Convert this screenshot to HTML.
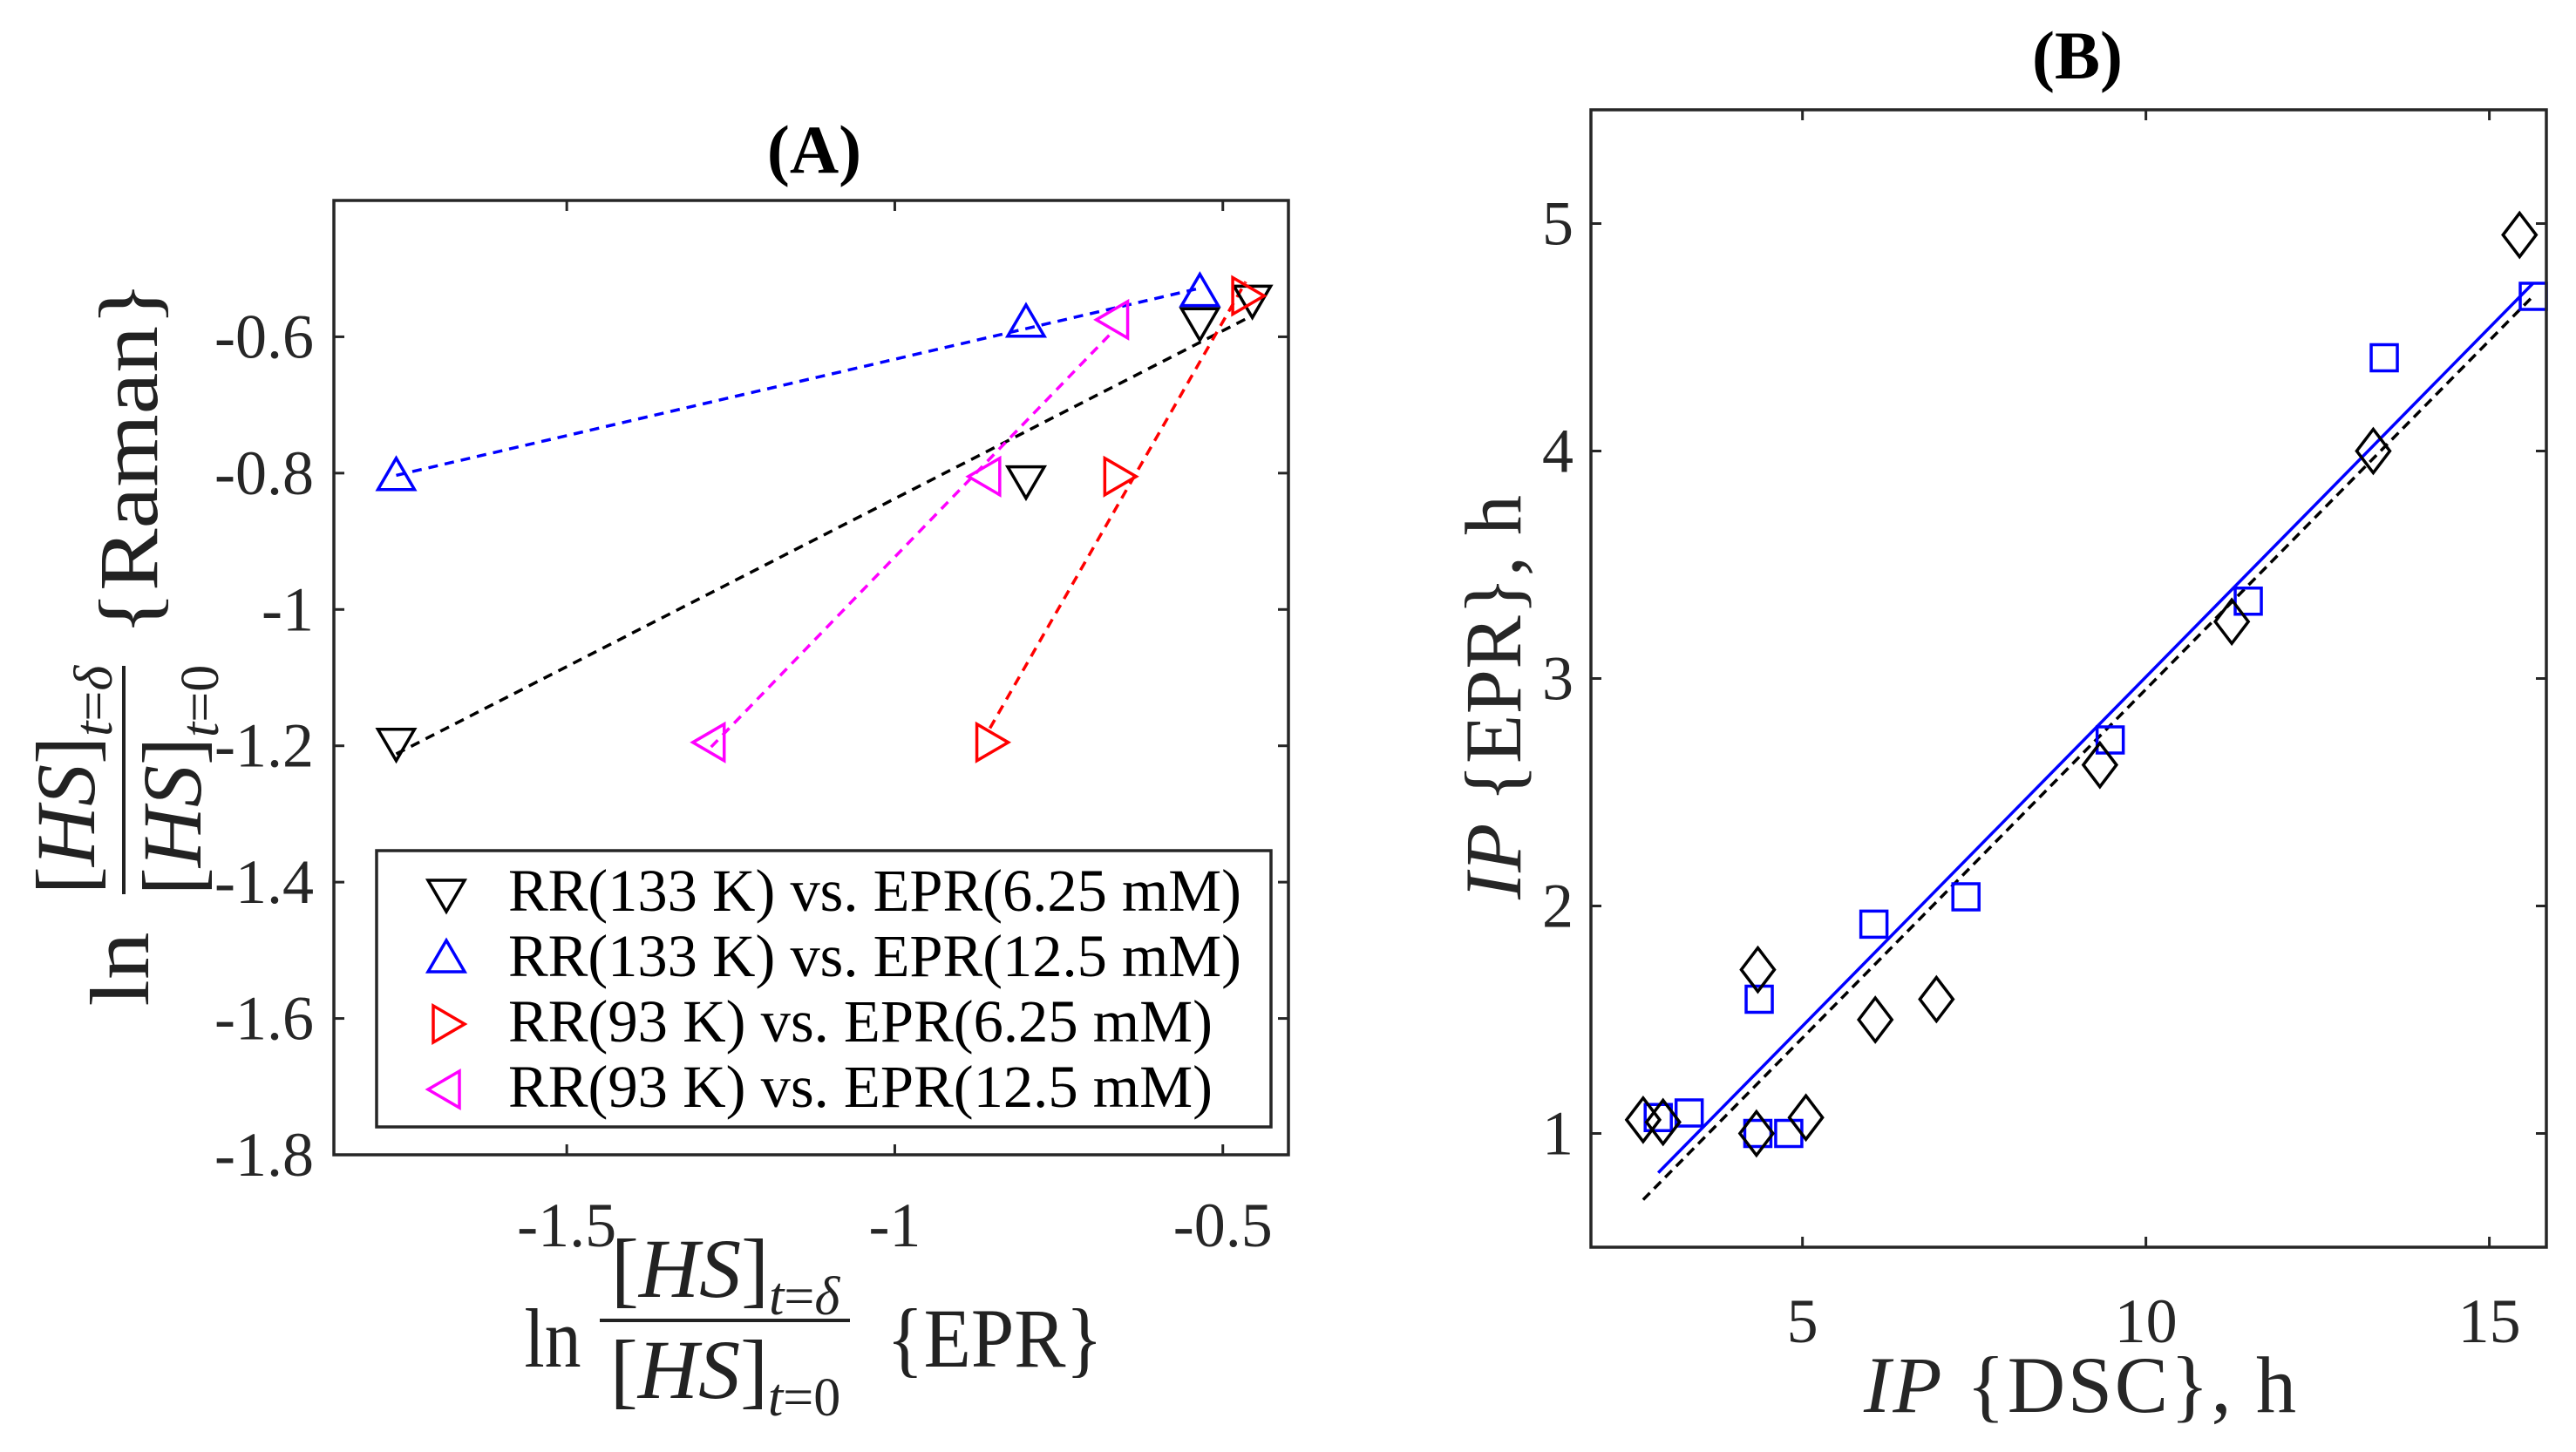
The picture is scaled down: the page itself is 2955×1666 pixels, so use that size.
<!DOCTYPE html>
<html><head><meta charset="utf-8"><style>
html,body{margin:0;padding:0;background:#fff;}
svg{display:block;font-family:"Liberation Serif","DejaVu Serif",serif;}
</style></head><body>
<svg id="fig" width="2955" height="1666" viewBox="0 0 2955 1666" xmlns="http://www.w3.org/2000/svg">
<rect width="2955" height="1666" fill="#fff"/>
<g id="pa"></g>
<g id="pb"></g>
</svg>
<script>
// ---- Panel A data ----
const aBlackX = [-1.76, -0.80, -0.535, -0.455];
const aBlackY = [-1.195, -0.81, -0.578, -0.545];
const aBlueX = [-1.76, -0.80, -0.535];
const aBlueY = [-0.805, -0.58, -0.535];
const aRedX = [-0.855, -0.66, -0.465];
const aRedY = [-1.195, -0.805, -0.54];
const aMagX = [-1.28, -0.86, -0.665];
const aMagY = [-1.195, -0.805, -0.575];
const aXTicks = [-1.5, -1, -0.5];
const aXTickLabels = ["-1.5", "-1", "-0.5"];
const aYTicks = [-1.8, -1.6, -1.4, -1.2, -1, -0.8, -0.6];
const aYTickLabels = ["-1.8", "-1.6", "-1.4", "-1.2", "-1", "-0.8", "-0.6"];
const aLegend = ["RR(133 K) vs. EPR(6.25 mM)", "RR(133 K) vs. EPR(12.5 mM)", "RR(93 K) vs. EPR(6.25 mM)", "RR(93 K) vs. EPR(12.5 mM)"];
// ---- Panel B data ----
const bDiaX = [2.68, 2.97, 4.35, 4.33, 5.05, 6.06, 6.95, 9.33, 11.25, 13.31, 15.44];
const bDiaY = [1.06, 1.05, 1.72, 1.0, 1.07, 1.50, 1.59, 2.62, 3.25, 4.00, 4.95];
const bSqX = [2.90, 3.35, 4.37, 4.35, 4.80, 6.04, 7.38, 9.48, 11.49, 13.47, 15.64];
const bSqY = [1.07, 1.09, 1.59, 1.0, 1.0, 1.92, 2.04, 2.73, 3.34, 4.41, 4.68];
const bXTicks = [5, 10, 15];
const bXTickLabels = ["5", "10", "15"];
const bYTicks = [1, 2, 3, 4, 5];
const bYTickLabels = ["1", "2", "3", "4", "5"];

const NS = "http://www.w3.org/2000/svg";
function mk(parent, tag, attrs, text) {
  const e = document.createElementNS(NS, tag);
  for (const k in attrs) e.setAttribute(k, attrs[k]);
  if (text !== undefined) e.textContent = text;
  parent.appendChild(e);
  return e;
}
function fit(xs, ys) {
  const n = xs.length; let mx = 0, my = 0;
  for (let i = 0; i < n; i++) { mx += xs[i]; my += ys[i]; }
  mx /= n; my /= n; let sxx = 0, sxy = 0;
  for (let i = 0; i < n; i++) { sxx += (xs[i]-mx)**2; sxy += (xs[i]-mx)*(ys[i]-my); }
  const b = sxy / sxx; return [b, my - b*mx];
}
function markerPath(type, cx, cy) {
  if (type === 'down') return `M${cx-21},${cy-15} L${cx+21},${cy-15} L${cx},${cy+21} Z`;
  if (type === 'up') return `M${cx-21},${cy+15} L${cx+21},${cy+15} L${cx},${cy-21} Z`;
  if (type === 'right') return `M${cx-15},${cy-21} L${cx-15},${cy+21} L${cx+21},${cy} Z`;
  if (type === 'left') return `M${cx+15},${cy-21} L${cx+15},${cy+21} L${cx-21},${cy} Z`;
  if (type === 'diamond') return `M${cx},${cy-25} L${cx+19},${cy} L${cx},${cy+25} L${cx-19},${cy} Z`;
  if (type === 'square') return `M${cx-15},${cy-15} L${cx+15},${cy-15} L${cx+15},${cy+15} L${cx-15},${cy+15} Z`;
}
const NUM = '[<tspan font-style="italic">HS</tspan>]<tspan font-size="62" font-style="italic" dy="20">t</tspan><tspan font-size="62">=</tspan><tspan font-size="62" font-style="italic">δ</tspan>';
const DEN = '[<tspan font-style="italic">HS</tspan>]<tspan font-size="62" font-style="italic" dy="20">t</tspan><tspan font-size="62">=0</tspan>';

// ================= PANEL A =================
const pa = document.getElementById('pa');
const A = {l:383, r:1478, t:230, b:1325, x0:-1.855, x1:-0.40, y0:-1.8, y1:-0.4};
const ax = v => A.l + (v - A.x0) / (A.x1 - A.x0) * (A.r - A.l);
const ay = v => A.b - (v - A.y0) / (A.y1 - A.y0) * (A.b - A.t);

const aTitle = mk(pa, 'text', {x:934, y:198, 'text-anchor':'middle', 'font-size':78, 'font-weight':'bold'}, '(A)');



const aTicksG = mk(pa, 'g', {stroke:'#262626', 'stroke-width':3});


aXTicks.forEach((v, i) => {
  const x = ax(v);
  mk(aTicksG, 'line', {x1:x, y1:A.b, x2:x, y2:A.b-12});
  mk(aTicksG, 'line', {x1:x, y1:A.t, x2:x, y2:A.t+12});
  const t = mk(pa, 'text', {x:x, y:1430, 'text-anchor':'middle', 'font-size':72, fill:'#262626'}, aXTickLabels[i]);
  
  
});
aYTicks.forEach((v, i) => {
  const y = ay(v);
  mk(aTicksG, 'line', {x1:A.l, y1:y, x2:A.l+12, y2:y});
  mk(aTicksG, 'line', {x1:A.r, y1:y, x2:A.r-12, y2:y});
  const t = mk(pa, 'text', {x:360, y:y+24, 'text-anchor':'end', 'font-size':72, fill:'#262626'}, aYTickLabels[i]);
  
  
});

const aSeries = [
  {xs:aBlackX, ys:aBlackY, color:'#000', m:'down', name:'black'},
  {xs:aBlueX, ys:aBlueY, color:'#0000ff', m:'up', name:'blue'},
  {xs:aRedX, ys:aRedY, color:'#ff0000', m:'right', name:'red'},
  {xs:aMagX, ys:aMagY, color:'#ff00ff', m:'left', name:'magenta'}
];
aSeries.forEach(s => {
  const [b, c] = fit(s.xs, s.ys);
  const xmin = Math.min(...s.xs), xmax = Math.max(...s.xs);
  const ln = mk(pa, 'line', {x1:ax(xmin), y1:ay(b*xmin+c), x2:ax(xmax), y2:ay(b*xmax+c), stroke:s.color, 'stroke-width':3.5, 'stroke-dasharray':'11 8'});
  
  
});
aSeries.forEach(s => {
  s.xs.forEach((v, i) => {
    const p = mk(pa, 'path', {d:markerPath(s.m, ax(v), ay(s.ys[i])), fill:'none', stroke:s.color, 'stroke-width':3.5, 'stroke-linejoin':'miter'});
    
    
  });
});
const aBox = mk(pa, 'rect', {x:A.l, y:A.t, width:A.r-A.l, height:A.b-A.t, fill:'none', stroke:'#262626', 'stroke-width':3.5});



// legend
const lg = mk(pa, 'g', {});


mk(lg, 'rect', {x:432, y:976, width:1026, height:317, fill:'#fff', stroke:'#262626', 'stroke-width':3.5});
const legLens = [841, 841, 808, 808];
aSeries.forEach((s, i) => {
  const cy = 1025 + i*75;
  const e = mk(lg, 'g', {});
  
  
  mk(e, 'path', {d:markerPath(s.m, 512, cy), fill:'none', stroke:s.color, 'stroke-width':3.5});
  mk(e, 'text', {x:583, y:cy+20, 'font-size':69, fill:'#000', textLength:legLens[i], lengthAdjust:'spacingAndGlyphs'}, aLegend[i]);
});

// y-label A (rotated fraction)
const yla = mk(pa, 'g', {transform:'translate(142,738) rotate(-90)', 'font-size':96, fill:'#222'});


mk(yla, 'text', {x:-374, y:28, 'text-anchor':'middle', textLength:85, lengthAdjust:'spacingAndGlyphs'}, 'ln');
mk(yla, 'line', {x1:-288, y1:0, x2:-26, y2:0, stroke:'#222', 'stroke-width':4});
const na = mk(yla, 'text', {x:-157, y:-34, 'text-anchor':'middle'});
na.innerHTML = NUM;
const da = mk(yla, 'text', {x:-157, y:88, 'text-anchor':'middle'});
da.innerHTML = DEN;
mk(yla, 'text', {x:212, y:38, 'text-anchor':'middle', textLength:407, lengthAdjust:'spacingAndGlyphs'}, '{Raman}');

// x-label A
const xla = mk(pa, 'g', {'font-size':96, fill:'#222'});


mk(xla, 'text', {x:634, y:1568, 'text-anchor':'middle', textLength:65, lengthAdjust:'spacingAndGlyphs'}, 'ln');
mk(xla, 'line', {x1:688, y1:1515, x2:975, y2:1515, stroke:'#222', 'stroke-width':4});
const nx = mk(xla, 'text', {x:832, y:1488, 'text-anchor':'middle'});
nx.innerHTML = NUM;
const dx = mk(xla, 'text', {x:832, y:1604, 'text-anchor':'middle'});
dx.innerHTML = DEN;
mk(xla, 'text', {x:1141, y:1568, 'text-anchor':'middle', textLength:248, lengthAdjust:'spacingAndGlyphs'}, '{EPR}');

// ================= PANEL B =================
const pb = document.getElementById('pb');
const B = {l:1825, r:2921, t:126, b:1431, x0:1.92, x1:15.83, y0:0.5, y1:5.5};
const bx = v => B.l + (v - B.x0) / (B.x1 - B.x0) * (B.r - B.l);
const by = v => B.b - (v - B.y0) / (B.y1 - B.y0) * (B.b - B.t);

const bTitle = mk(pb, 'text', {x:2383, y:90, 'text-anchor':'middle', 'font-size':78, 'font-weight':'bold'}, '(B)');



const bTicksG = mk(pb, 'g', {stroke:'#262626', 'stroke-width':3});


bXTicks.forEach((v, i) => {
  const x = bx(v);
  mk(bTicksG, 'line', {x1:x, y1:B.b, x2:x, y2:B.b-12});
  mk(bTicksG, 'line', {x1:x, y1:B.t, x2:x, y2:B.t+12});
  const t = mk(pb, 'text', {x:x, y:1540, 'text-anchor':'middle', 'font-size':72, fill:'#262626'}, bXTickLabels[i]);
  
  
});
bYTicks.forEach((v, i) => {
  const y = by(v);
  mk(bTicksG, 'line', {x1:B.l, y1:y, x2:B.l+12, y2:y});
  mk(bTicksG, 'line', {x1:B.r, y1:y, x2:B.r-12, y2:y});
  const t = mk(pb, 'text', {x:1805, y:y+24, 'text-anchor':'end', 'font-size':72, fill:'#262626'}, bYTickLabels[i]);
  
  
});

const xmaxAll = Math.max(...bDiaX, ...bSqX);
{
  const [b, c] = fit(bDiaX, bDiaY);
  const x0 = Math.min(...bDiaX);
  const l = mk(pb, 'line', {x1:bx(x0), y1:by(b*x0+c), x2:bx(xmaxAll), y2:by(b*xmaxAll+c), stroke:'#000', 'stroke-width':3.5, 'stroke-dasharray':'11 7'});
  
  
}
{
  const [b, c] = fit(bSqX, bSqY);
  const x0 = Math.min(...bSqX);
  const l = mk(pb, 'line', {x1:bx(x0), y1:by(b*x0+c), x2:bx(xmaxAll), y2:by(b*xmaxAll+c), stroke:'#0000ff', 'stroke-width':3.5});
  
  
}
bSqX.forEach((v, i) => {
  const p = mk(pb, 'path', {d:markerPath('square', bx(v), by(bSqY[i])), fill:'none', stroke:'#0000ff', 'stroke-width':3.5});
  
  
});
bDiaX.forEach((v, i) => {
  const p = mk(pb, 'path', {d:markerPath('diamond', bx(v), by(bDiaY[i])), fill:'none', stroke:'#000', 'stroke-width':3.5});
  
  
});
const bBox = mk(pb, 'rect', {x:B.l, y:B.t, width:B.r-B.l, height:B.b-B.t, fill:'none', stroke:'#262626', 'stroke-width':3.5});



const xlb = mk(pb, 'text', {x:2386, y:1620, 'text-anchor':'middle', 'font-size':92, fill:'#262626', textLength:496, lengthAdjust:'spacing'});


xlb.innerHTML = '<tspan font-style="italic">IP</tspan>  {DSC},  h';
const ylb = mk(pb, 'text', {transform:'translate(1744,800) rotate(-90)', x:0, y:0, 'text-anchor':'middle', 'font-size':92, fill:'#262626', textLength:464, lengthAdjust:'spacing'});


ylb.innerHTML = '<tspan font-style="italic">IP</tspan>  {EPR},  h';
</script>
</body></html>
